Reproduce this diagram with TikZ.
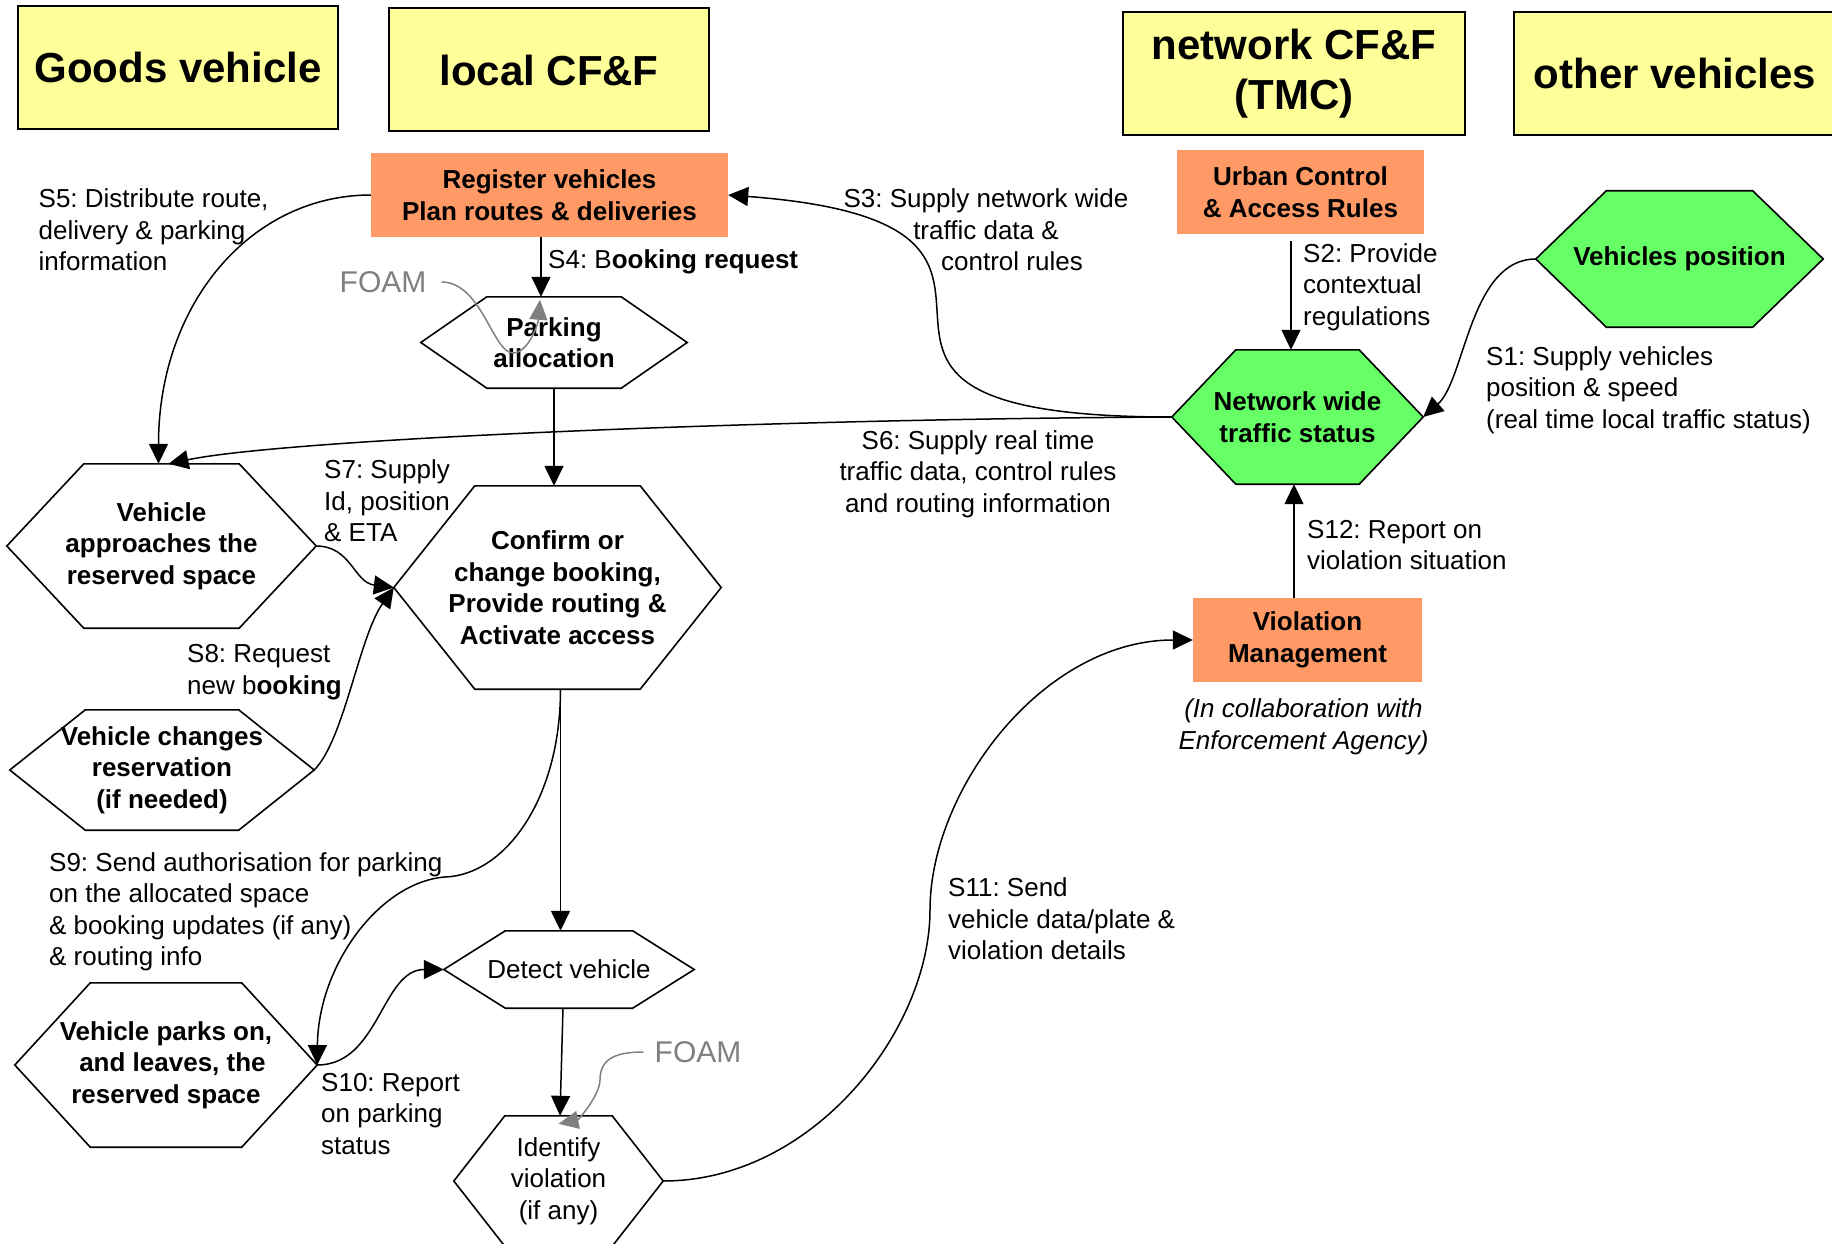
\documentclass[tikz,border=0pt]{standalone}
\usepackage{fontspec}
\setmainfont{Liberation Sans}
\usetikzlibrary{arrows.meta, backgrounds}
\definecolor{laneyellow}{RGB}{255,255,153}
\definecolor{taskorange}{RGB}{255,153,102}
\definecolor{hexgreen}{RGB}{102,255,102}
\definecolor{foamgray}{RGB}{128,128,128}
\newcommand\msgfont{\fontsize{26}{31.5}\selectfont}
\frenchspacing
\tikzset{
lane/.style={draw, line width=2pt, fill=laneyellow, minimum height=123pt, align=center, font=\fontsize{42}{50}\selectfont\bfseries},
task/.style={fill=taskorange, minimum height=84pt, inner sep=0pt, align=center, font=\msgfont\bfseries},
hexnode/.style={inner sep=0pt, align=center, font=\msgfont\bfseries},
hexline/.style={draw, line width=1.6pt},
msg/.style={inner sep=0pt, align=left, font=\msgfont},
foam/.style={inner sep=0pt, text=foamgray, font=\fontsize{30}{36}\selectfont},
flow/.style={-{Triangle[length=20pt, width=19pt]}, line width=1.5pt},
foamflow/.style={flow, draw=foamgray, -{Triangle[length=20pt, width=18pt, fill=foamgray]}}}

\begin{document}
\begin{tikzpicture}[x=1pt, y=-1pt]
\useasboundingbox (0,0) rectangle (1832,1244);
\clip (0,0) rectangle (1832,1244);
% lanes
\foreach \lname/\ltext/\lx/\ly/\lw in {goods/Goods vehicle/178/67.5/320, local/local CF\&F/549/70/320, tmc/network CF\&F\\(TMC)/1294/73.5/342, other/other vehicles/1675/73.5/322}
   \node [lane, minimum width=\lw] (\lname) at (\lx,\ly) {\ltext};

% tasks
\node [task, minimum width=357] (reg) at (549.5,195) {Register vehicles\\Plan routes \& deliveries};
\node [task, minimum width=247] (urban) at (1300.5,192) {Urban Control\\\& Access Rules};
\node [task, minimum width=229] (viol) at (1307.5,640) {Violation\\Management};

% hexagons
\node [hexnode, minimum width=266, minimum height=91] (park) at (554,342.5) {Parking\\allocation};
\node [hexnode, minimum width=309, minimum height=164] (appr) at (161.5,546) {Vehicle\\approaches the\\reserved space};
\node [hexnode, minimum width=327, minimum height=203] (conf) at (557.5,587.5) {Confirm or\\change booking,\\Provide routing \&\\Activate access};
\node [hexnode, minimum width=304, minimum height=120] (chg) at (162,770) {Vehicle changes\\reservation\\(if needed)};
\node [hexnode, font=\msgfont, minimum width=250, minimum height=77] (det) at (569,969.5) {Detect vehicle};
\node [hexnode, minimum width=302, minimum height=164] (parks) at (166,1065) {Vehicle parks on,\\\hspace*{.5em}and leaves, the\\reserved space};
\node [hexnode, font=\msgfont, minimum width=209, minimum height=130] (ident) at (558.5,1181) {Identify\\violation\\(if any)};
\node [hexnode, minimum width=251, minimum height=134] (netw) at (1297.5,417) {Network wide\\traffic status};
\node [hexnode, minimum width=287, minimum height=136] (vpos) at (1679.5,259) {Vehicles position};
\begin{scope}[on background layer]
\foreach \n/\t/\c in {park/66/white, appr/77/white, conf/81/white, chg/75.5/white, det/61.5/white, parks/75.5/white, ident/51/white, netw/64/hexgreen, vpos/70.5/hexgreen}
   \draw [hexline, fill=\c] (\n.west) -- ([xshift=\t]\n.north west) -- ([xshift=-\t]\n.north east) -- (\n.east)
      -- ([xshift=-\t]\n.south east) -- ([xshift=\t]\n.south west) -- cycle;
\end{scope}

% labels
\node [msg, anchor=west] (s5) at (38.5,230) {S5: Distribute route,\\delivery \& parking\\information};
\node [msg, anchor=west] (s4) at (548,262) {S4: B\textbf{ooking request}};
\node [msg, align=center] (s3) at (986,230) {S3: Supply network wide\\traffic data \&\\\hspace*{2em}control rules};
\node [msg, anchor=west] (s2) at (1303,287) {S2: Provide\\contextual\\regulations};
\node [msg, anchor=west] (s1) at (1486,390) {S1: Supply vehicles\\position \& speed\\(real time local traffic status)};
\node [msg, align=center] (s6) at (978,474) {S6: Supply real time\\traffic data, control rules\\and routing information};
\node [msg, anchor=west] (s7) at (324,501) {S7: Supply\\Id, position\\\& ETA};
\node [msg, anchor=west] (s8) at (187,672) {S8: Request\\new b\textbf{ooking}};
\node [msg, anchor=west] (s9) at (49,912) {S9: Send authorisation for parking\\on the allocated space\\\& booking updates (if any)\\\& routing info};
\node [msg, anchor=west] (s10) at (321,1114) {S10: Report\\on parking\\status};
\node [msg, anchor=west] (s12) at (1307,545) {S12: Report on\\violation situation};
\node [msg, anchor=west] (s11) at (948,919) {S11: Send\\vehicle data/plate \&\\violation details};
\node [msg, align=center, font=\msgfont\itshape] (collab) at (1303.5,727) {(In collaboration with\\Enforcement Agency)};
\node [foam] (foam-1) at (383,282) {FOAM};
\node [foam] (foam-2) at (698,1052) {FOAM};

% flows
\draw [flow] ([xshift=-8.5]reg.south) -- ([xshift=-8.5]reg.south |- park.north);
\draw [flow] (park.south) -- (park.south |- conf.north);
\draw [flow] ([xshift=3]conf.south) -- ([xshift=3]conf.south |- det.north);
\draw [flow] ([xshift=-6]det.south) -- ([xshift=1.5]ident.north);
\draw [flow] (reg.west) .. controls +(-120,0) and +(0,-160) .. ([xshift=-3]appr.north);
\draw [flow] (netw.west) .. controls +(-400,2) and +(120,-25) .. ([xshift=7]appr.north);
\draw [flow] (netw.west) .. controls +(-440,0) and +(400,30) .. (reg.east);
\draw [flow] ([xshift=-9.5,yshift=-7]urban.south) -- ([xshift=-9.5]urban.south |- netw.north);
\draw [flow] (vpos.west) .. controls +(-66,0) and +(42,-37) .. (netw.east);
\draw [flow] ([xshift=-13.5]viol.north) -- ([xshift=-13.5]viol.north |- netw.south);
\draw [flow] (ident.east) .. controls +(150,0) and +(0,120) .. (930,910)
   .. controls +(0,-120) and +(-150,0) .. (viol.west);
\draw [flow] (appr.east) .. controls +(35,0) and +(-40,-5) .. (conf.west);
\draw [flow] (chg.east) .. controls +(30,-30) and +(-35,50) .. (conf.west);
\draw [flow] ([xshift=3]conf.south) .. controls +(0,110) and +(60,-2) .. (445,877)
   .. controls +(-65,5) and +(1,-100) .. (parks.east);
\draw [flow] (parks.east) .. controls +(62,0) and +(-62,0) .. (det.west);
\draw [foamflow] ([xshift=15]foam-1.east) .. controls +(40,0) and +(-20,0) .. (513,353)
   .. controls +(15,0) and +(-2,25) .. ([xshift=-14,yshift=-3]park.north);
\draw [foamflow] ([xshift=-11]foam-2.west) .. controls +(-30,0) and +(0,-20) .. (600,1080)
   .. controls +(0,15) and +(20,-4) .. ([yshift=-8]ident.north);
\end{tikzpicture}
\end{document}
